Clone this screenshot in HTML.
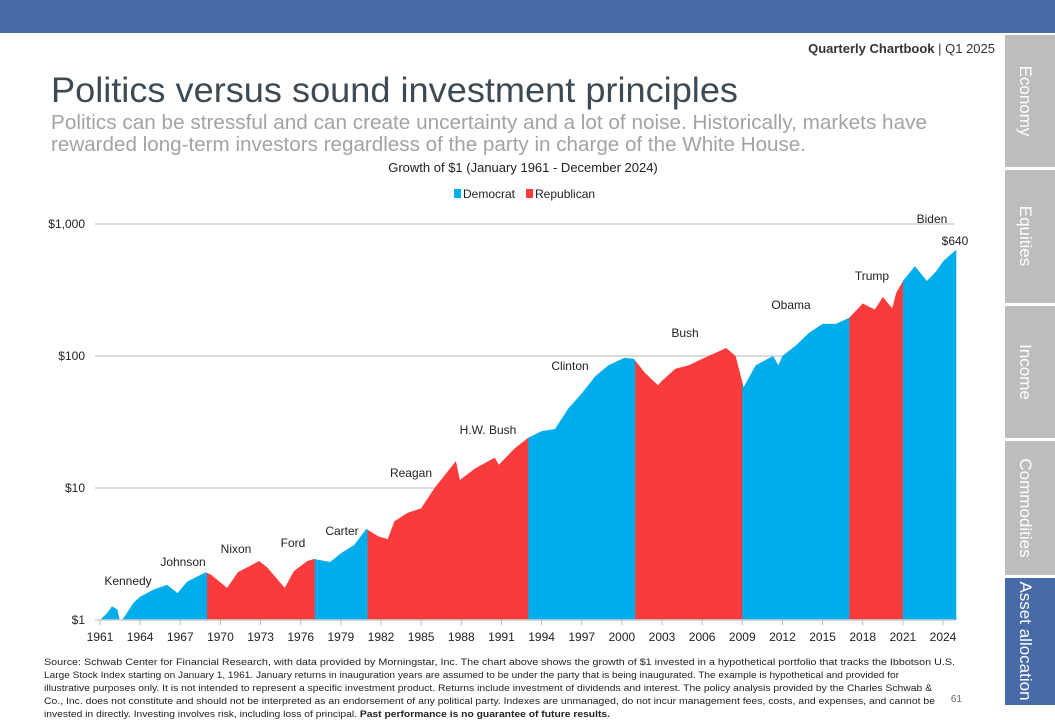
<!DOCTYPE html>
<html><head><meta charset="utf-8"><style>
html,body{margin:0;padding:0;background:#fff;}
svg{display:block;font-family:"Liberation Sans",sans-serif;}
</style></head><body>
<svg id="root" width="1055" height="720" viewBox="0 0 1055 720">
<rect x="0" y="0" width="1055" height="33" fill="#476aa9"/>
<text x="995" y="53" font-size="13" fill="#333" text-anchor="end" font-weight="bold">Quarterly Chartbook <tspan font-weight="normal">| Q1 2025</tspan></text>
<text x="51" y="102" font-size="35" fill="#3d4a53" textLength="687" lengthAdjust="spacingAndGlyphs">Politics versus sound investment principles</text>
<text x="51" y="129" font-size="20" fill="#a3a3a3" textLength="876" lengthAdjust="spacingAndGlyphs">Politics can be stressful and can create uncertainty and a lot of noise. Historically, markets have</text>
<text x="51" y="151" font-size="20" fill="#a3a3a3" textLength="755" lengthAdjust="spacingAndGlyphs">rewarded long-term investors regardless of the party in charge of the White House.</text>
<text x="523" y="172" font-size="13" fill="#222" text-anchor="middle">Growth of $1 (January 1961 - December 2024)</text>
<g>
<rect x="454" y="189" width="7" height="9" fill="#00adeb"/>
<text x="463" y="198" font-size="12" fill="#222">Democrat</text>
<rect x="526" y="189" width="7" height="9" fill="#fa3b3c"/>
<text x="535" y="198" font-size="12" fill="#222">Republican</text>
</g>
<g id="chart"></g>
<g>
<rect x="1005" y="35" width="50" height="132" fill="#bdbdbd"/>
<rect x="1005" y="170" width="50" height="133" fill="#bdbdbd"/>
<rect x="1005" y="306" width="50" height="132" fill="#bdbdbd"/>
<rect x="1005" y="441" width="50" height="134" fill="#bdbdbd"/>
<rect x="1005" y="578" width="50" height="127" fill="#476aa9"/>
<g fill="#fff" font-size="17">
<text transform="translate(1020,101) rotate(90)" text-anchor="middle">Economy</text>
<text transform="translate(1020,236) rotate(90)" text-anchor="middle">Equities</text>
<text transform="translate(1020,372) rotate(90)" text-anchor="middle">Income</text>
<text transform="translate(1020,508) rotate(90)" text-anchor="middle">Commodities</text>
<text transform="translate(1020,641) rotate(90)" text-anchor="middle">Asset allocation</text>
</g></g>
<g font-size="9.6" fill="#222">
<text x="44" y="665" textLength="911" lengthAdjust="spacingAndGlyphs">Source: Schwab Center for Financial Research, with data provided by Morningstar, Inc. The chart above shows the growth of $1 invested in a hypothetical portfolio that tracks the Ibbotson U.S.</text>
<text x="44" y="678" textLength="855" lengthAdjust="spacingAndGlyphs">Large Stock Index starting on January 1, 1961. January returns in inauguration years are assumed to be under the party that is being inaugurated. The example is hypothetical and provided for</text>
<text x="44" y="691" textLength="888" lengthAdjust="spacingAndGlyphs">illustrative purposes only. It is not intended to represent a specific investment product. Returns include investment of dividends and interest. The policy analysis provided by the Charles Schwab &amp;</text>
<text x="44" y="704" textLength="891" lengthAdjust="spacingAndGlyphs">Co., Inc. does not constitute and should not be interpreted as an endorsement of any political party. Indexes are unmanaged, do not incur management fees, costs, and expenses, and cannot be</text>
<text x="44" y="717" textLength="566" lengthAdjust="spacingAndGlyphs">invested in directly. Investing involves risk, including loss of principal. <tspan font-weight="bold">Past performance is no guarantee of future results.</tspan></text>
</g>
<text x="962" y="702" font-size="10" fill="#666" text-anchor="end">61</text>
</svg>
<script>
const dates = [1961.0,1961.5,1961.9,1962.3,1962.5,1962.8,1963.5,1964,1965,1966,1966.8,1967.5,1968.9,1969.3,1970.5,1971.3,1972.9,1973.5,1974.8,1975.5,1976.5,1977.0,1978.2,1979,1980,1980.9,1981.8,1982.5,1983,1984,1985,1986,1987.6,1987.9,1989,1990.5,1990.8,1992,1993,1994,1995,1996,1997,1998,1999,2000.2,2000.9,2001.7,2002.7,2003,2004,2005,2006,2007.8,2008.5,2009.1,2010,2011.3,2011.7,2012,2013,2014,2015,2016,2017.0,2018,2018.9,2019.5,2020.2,2020.5,2021.0,2021.9,2022.8,2023.5,2024,2024.5,2025.0];
const values = [1.0,1.12,1.27,1.2,0.97,1.05,1.35,1.5,1.7,1.85,1.6,1.95,2.3,2.2,1.75,2.3,2.8,2.5,1.75,2.35,2.8,2.9,2.75,3.2,3.7,4.9,4.3,4.1,5.6,6.5,7.0,10,16,11.5,14,17,15,20,24,27,28,40,52,70,85,97,95,75,60,65,80,85,95,115,100,58,85,100,85,100,120,150,175,175,195,250,225,280,230,300,370,480,370,440,520,580,640];
const bounds = [1961,1963.9,1969,1974.6,1977.05,1981,1989,1993,2001,2009,2017,2021,2025];
const bParty = ["D","D","R","R","D","R","R","D","R","D","R","D"];
const presidents = ["Kennedy","Johnson","Nixon","Ford","Carter","Reagan","H.W. Bush","Clinton","Bush","Obama","Trump","Biden"];
const yTicks = [1,10,100,1000];
const yTickLabels = ["$1","$10","$100","$1,000"];
const xTicks = [1961,1964,1967,1970,1973,1976,1979,1982,1985,1988,1991,1994,1997,2000,2003,2006,2009,2012,2015,2018,2021,2024];
</script>
<script>
const labelPos = [[128,585],[183,566],[236,553],[293,547],[342,535],[411,477],[488,434],[570,370],[685,337],[791,309],[872,280],[932,223]];
const NS="http://www.w3.org/2000/svg";
const g=document.getElementById('chart');
const x0=100,x1=943,y0=620,dec=132;
const xs=d=>x0+(d-1961)*(x1-x0)/(2024-1961);
const ys=v=>y0-dec*Math.log10(v);
function el(t,a){const e=document.createElementNS(NS,t);for(const k in a)e.setAttribute(k,a[k]);g.appendChild(e);return e;}
yTicks.forEach((v,i)=>{
  if(i>0){const l=el('line',{x1:95,x2:955,y1:ys(v),y2:ys(v),stroke:'#cfcfcf','stroke-width':1.5});
  
  }
  const t=el('text',{x:85,y:ys(v)+4,'text-anchor':'end','font-size':12,fill:'#222'});t.textContent=yTickLabels[i];
  
  
});
let d='M'+xs(dates[0])+','+y0;
dates.forEach((t,i)=>{d+=' L'+xs(t).toFixed(1)+','+ys(values[i]).toFixed(1);});
d+=' L'+xs(dates[dates.length-1])+','+y0+' Z';
const defs=el('defs',{});const cp=document.createElementNS(NS,'clipPath');cp.setAttribute('id','areaClip');
const p=document.createElementNS(NS,'path');p.setAttribute('d',d);cp.appendChild(p);defs.appendChild(cp);
for(let i=0;i<bounds.length-1;i++){
  const w=xs(bounds[i+1])-xs(bounds[i])+(i<bounds.length-2?1:0);
  const r=el('rect',{x:xs(bounds[i]),y:150,width:w,height:y0-150,fill:bParty[i]==='D'?'#00adeb':'#fa3b3c','clip-path':'url(#areaClip)'});
  
  
}
for(let i=0;i<presidents.length;i++){
  const t=el('text',{x:labelPos[i][0],y:labelPos[i][1],'text-anchor':'middle','font-size':12,fill:'#222'});t.textContent=presidents[i];
  
  
}
const ax=el('line',{x1:95,x2:955,y1:y0,y2:y0,stroke:'#cfcfcf','stroke-width':1.5});


xTicks.forEach(v=>{
  const tk=el('line',{x1:xs(v),x2:xs(v),y1:y0,y2:y0+5,stroke:'#bbb'});
  
  
  const t=el('text',{x:xs(v),y:641,'text-anchor':'middle','font-size':12,fill:'#222'});t.textContent=v;
  
  
});
const ev=el('text',{x:955,y:245,'text-anchor':'middle','font-size':12,fill:'#222'});ev.textContent='$'+values[values.length-1];


</script>
</body></html>
